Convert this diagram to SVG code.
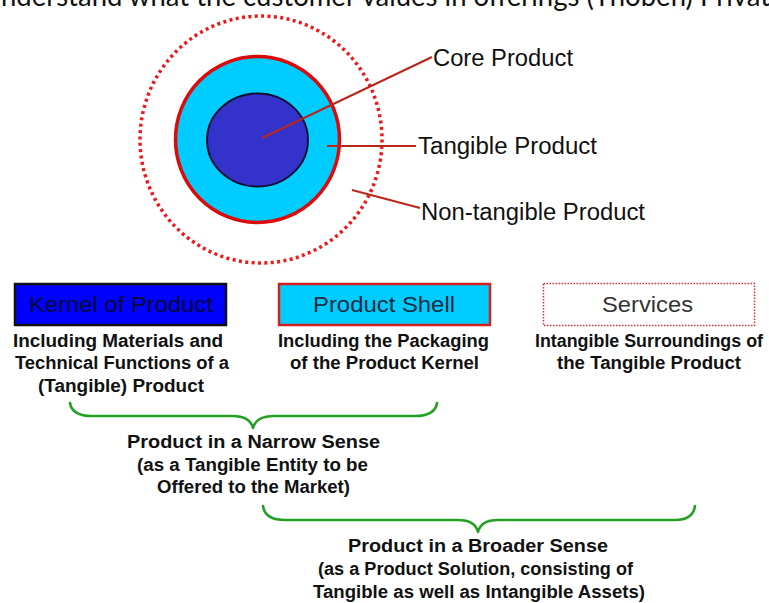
<svg xmlns="http://www.w3.org/2000/svg" width="769" height="603" viewBox="0 0 769 603">
  <style>
    .label { font-family: "Liberation Sans", Arial, sans-serif; font-size: 23px; fill: #111; }
    .boxlabel { font-family: "Liberation Sans", Arial, sans-serif; font-size: 22px; }
    .desc { font-family: "Liberation Sans", Arial, sans-serif; font-size: 17.5px; font-weight: bold; fill: #111; }
    .sense { font-family: "Liberation Sans", Arial, sans-serif; font-size: 18px; font-weight: bold; fill: #111; }
    .callout { stroke: #b8261c; stroke-width: 2; fill: none; }
    .brace { stroke: #24a024; stroke-width: 2.6; fill: none; stroke-linecap: round; stroke-linejoin: round; }
  </style>

  <rect width="769" height="603" fill="#ffffff"/>

  <!-- running text of the page above the figure, cut by the top edge -->
  <text id="page-text" x="1" y="6" font-family="Lato, 'Open Sans', sans-serif" font-size="28" fill="#111" textLength="769" lengthAdjust="spacingAndGlyphs">nderstand what the customer values in offerings (Thoben) Privat</text>

  <!-- concentric product layers -->
  <g id="layers">
    <ellipse id="non-tangible-ring" cx="261" cy="139.5" rx="121" ry="123.5" fill="none" stroke="#ee1818" stroke-width="3.5" stroke-dasharray="3 3.4"/>
    <ellipse id="tangible-ring" cx="257.5" cy="139.5" rx="82" ry="83" fill="#00ccff" stroke="#dd0a0a" stroke-width="3.5"/>
    <ellipse id="core" cx="257.5" cy="140" rx="50.5" ry="46.5" fill="#3333cc" stroke="#111133" stroke-width="2"/>
  </g>

  <!-- callout lines and legend braces -->
  <g id="connectors">
    <line class="callout" x1="262" y1="138" x2="432" y2="57"/>
    <line class="callout" x1="327" y1="146" x2="416" y2="146"/>
    <line class="callout" x1="352" y1="190" x2="420" y2="208"/>
    <path class="brace" d="M70,403 Q72,416 92,416 L232,416 Q250,416 253,428 Q256,416 274,416 L415,416 Q435,416 437,403"/>
    <path class="brace" d="M263,506 Q265,520 285,520 L458,520 Q475,520 478,532 Q481,520 498,520 L675,520 Q693,520 695,506"/>
  </g>

  <g id="label-core"><text class="label" x="433" y="66" textLength="140" lengthAdjust="spacingAndGlyphs">Core Product</text></g>
  <g id="label-tangible"><text class="label" x="418" y="154" textLength="179" lengthAdjust="spacingAndGlyphs">Tangible Product</text></g>
  <g id="label-non-tangible"><text class="label" x="421" y="220" textLength="224" lengthAdjust="spacingAndGlyphs">Non-tangible Product</text></g>

  <!-- legend boxes -->
  <g id="kernel">
    <rect x="15" y="284" width="211" height="41" fill="#0000ff" stroke="#111" stroke-width="2.5"/>
    <text class="boxlabel" x="29" y="312" fill="#0a0a30" textLength="184" lengthAdjust="spacingAndGlyphs">Kernel of Product</text>
    <text class="desc" x="13" y="347" textLength="210" lengthAdjust="spacingAndGlyphs">Including Materials and</text>
    <text class="desc" x="15" y="369" textLength="214" lengthAdjust="spacingAndGlyphs">Technical Functions of a</text>
    <text class="desc" x="38" y="392" textLength="166" lengthAdjust="spacingAndGlyphs">(Tangible) Product</text>
  </g>

  <g id="shell">
    <rect x="279" y="284" width="211" height="41" fill="#00ccff" stroke="#d42020" stroke-width="2.5"/>
    <text class="boxlabel" x="313" y="312" fill="#1a2a40" textLength="142" lengthAdjust="spacingAndGlyphs">Product Shell</text>
    <text class="desc" x="278" y="347" textLength="211" lengthAdjust="spacingAndGlyphs">Including the Packaging</text>
    <text class="desc" x="290" y="369" textLength="189" lengthAdjust="spacingAndGlyphs">of the Product Kernel</text>
  </g>

  <g id="services">
    <rect x="543.5" y="283.5" width="211" height="42" fill="#ffffff" stroke="#e03030" stroke-width="1.5" stroke-dasharray="1.5 1.5"/>
    <text class="boxlabel" x="602" y="312" fill="#333" textLength="91" lengthAdjust="spacingAndGlyphs">Services</text>
    <text class="desc" x="535" y="347" textLength="228" lengthAdjust="spacingAndGlyphs">Intangible Surroundings of</text>
    <text class="desc" x="557" y="369" textLength="184" lengthAdjust="spacingAndGlyphs">the Tangible Product</text>
  </g>

  <g id="narrow-sense">
    <text class="sense" x="127" y="448" textLength="253" lengthAdjust="spacingAndGlyphs">Product in a Narrow Sense</text>
    <text class="sense" x="137" y="471" textLength="231" lengthAdjust="spacingAndGlyphs">(as a Tangible Entity to be</text>
    <text class="sense" x="157" y="493" textLength="193" lengthAdjust="spacingAndGlyphs">Offered to the Market)</text>
  </g>

  <g id="broader-sense">
    <text class="sense" x="348" y="552" textLength="260" lengthAdjust="spacingAndGlyphs">Product in a Broader Sense</text>
    <text class="sense" x="318" y="575" textLength="315" lengthAdjust="spacingAndGlyphs">(as a Product Solution, consisting of</text>
    <text class="sense" x="313" y="598" textLength="332" lengthAdjust="spacingAndGlyphs">Tangible as well as Intangible Assets)</text>
  </g>
</svg>
